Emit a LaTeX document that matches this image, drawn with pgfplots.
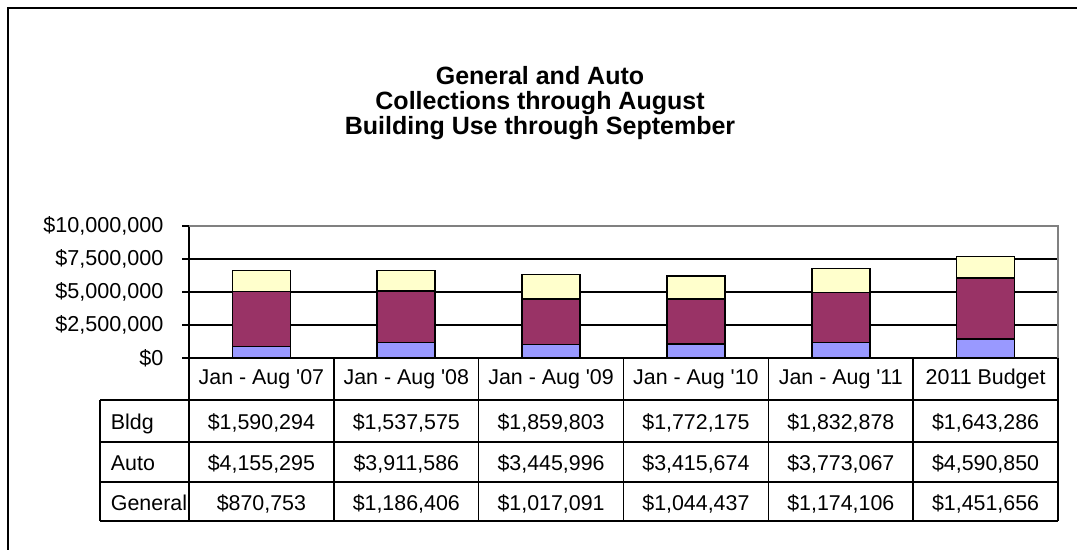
\documentclass[border=0pt]{standalone}
\usepackage{pgfplots}
\pgfplotsset{compat=1.18}
\usepackage{fontspec}
\setmainfont{Liberation Sans}
\definecolor{gen}{HTML}{9999FF}
\definecolor{auto}{HTML}{993366}
\definecolor{bldg}{HTML}{FFFFCC}
\begin{document}
\fontsize{10.7}{12}\selectfont
\begin{tikzpicture}
\begin{scope}[x=0.5pt,y=-0.5pt]
\useasboundingbox (0,0) rectangle (1077,550);
\draw[line width=1.1pt] (8,570) -- (8,8) -- (1100,8);
\node[font=\bfseries\fontsize{12.5}{12.3}\selectfont, align=center] at (540,103) {General and Auto\\Collections through August\\Building Use through September};
\end{scope}
\begin{axis}[at={(94.5pt,-179pt)}, anchor=south west,
  width=434.5pt, height=66pt, scale only axis,
  xmin=-0.5, xmax=5.5, ymin=0, ymax=10000000,
  ybar stacked, bar width=29pt,
  xtick=\empty,
  ytick={0,2500000,5000000,7500000,10000000},
  yticklabels={{\$0},{\$2,500,000},{\$5,000,000},{\$7,500,000},{\$10,000,000}},
  scaled y ticks=false,
  ymajorgrids, grid style={black, line width=0.7pt},
  axis x line*=bottom, axis y line*=left,
  axis line style={black, line width=0.8pt, -},
  tick align=outside, major tick length=3.5pt, tick style={black, line width=0.7pt},
  ytick pos=left,
  yticklabel style={font=\fontsize{10.8}{12}\selectfont, xshift=-5.5pt},
  clip=false]
\addplot[fill=gen, draw=black, line width=0.8pt] coordinates {(0,870753) (1,1186406) (2,1017091) (3,1044437) (4,1174106) (5,1451656)};
\addplot[fill=auto, draw=black, line width=0.8pt] coordinates {(0,4155295) (1,3911586) (2,3445996) (3,3415674) (4,3773067) (5,4590850)};
\addplot[fill=bldg, draw=black, line width=0.8pt] coordinates {(0,1590294) (1,1537575) (2,1859803) (3,1772175) (4,1832878) (5,1643286)};
\draw[gray, line width=0.8pt] (rel axis cs:0,1) -- (rel axis cs:1,1) -- (rel axis cs:1,0);
\end{axis}
\begin{scope}[x=0.5pt,y=-0.5pt, line width=0.8pt]
\foreach \yy in {400,442,482,521} \draw (100,\yy) -- (1058,\yy);
\draw (100,400) -- (100,521);
\foreach \xx in {189,333.83,478.67,623.5,768.33,913.17,1058} \draw (\xx,358) -- (\xx,521);
\node[anchor=base west] at (103,430) {Bldg};
\node[anchor=base west] at (103,470.5) {Auto};
\node[anchor=base west] at (103,511) {General};
\foreach \xx/\h/\b/\a/\g in {261.4/{Jan - Aug \textquotesingle 07}/{\$1,590,294}/{\$4,155,295}/{\$870,753},
  406.3/{Jan - Aug \textquotesingle 08}/{\$1,537,575}/{\$3,911,586}/{\$1,186,406},
  551.1/{Jan - Aug \textquotesingle 09}/{\$1,859,803}/{\$3,445,996}/{\$1,017,091},
  695.9/{Jan - Aug \textquotesingle 10}/{\$1,772,175}/{\$3,415,674}/{\$1,044,437},
  840.8/{Jan - Aug \textquotesingle 11}/{\$1,832,878}/{\$3,773,067}/{\$1,174,106},
  985.6/{2011 Budget}/{\$1,643,286}/{\$4,590,850}/{\$1,451,656}} {
  \node[anchor=base] at (\xx,385) {\h};
  \node[anchor=base] at (\xx,430) {\b};
  \node[anchor=base] at (\xx,470.5) {\a};
  \node[anchor=base] at (\xx,511) {\g};
}
\end{scope}
\end{tikzpicture}
\end{document}
